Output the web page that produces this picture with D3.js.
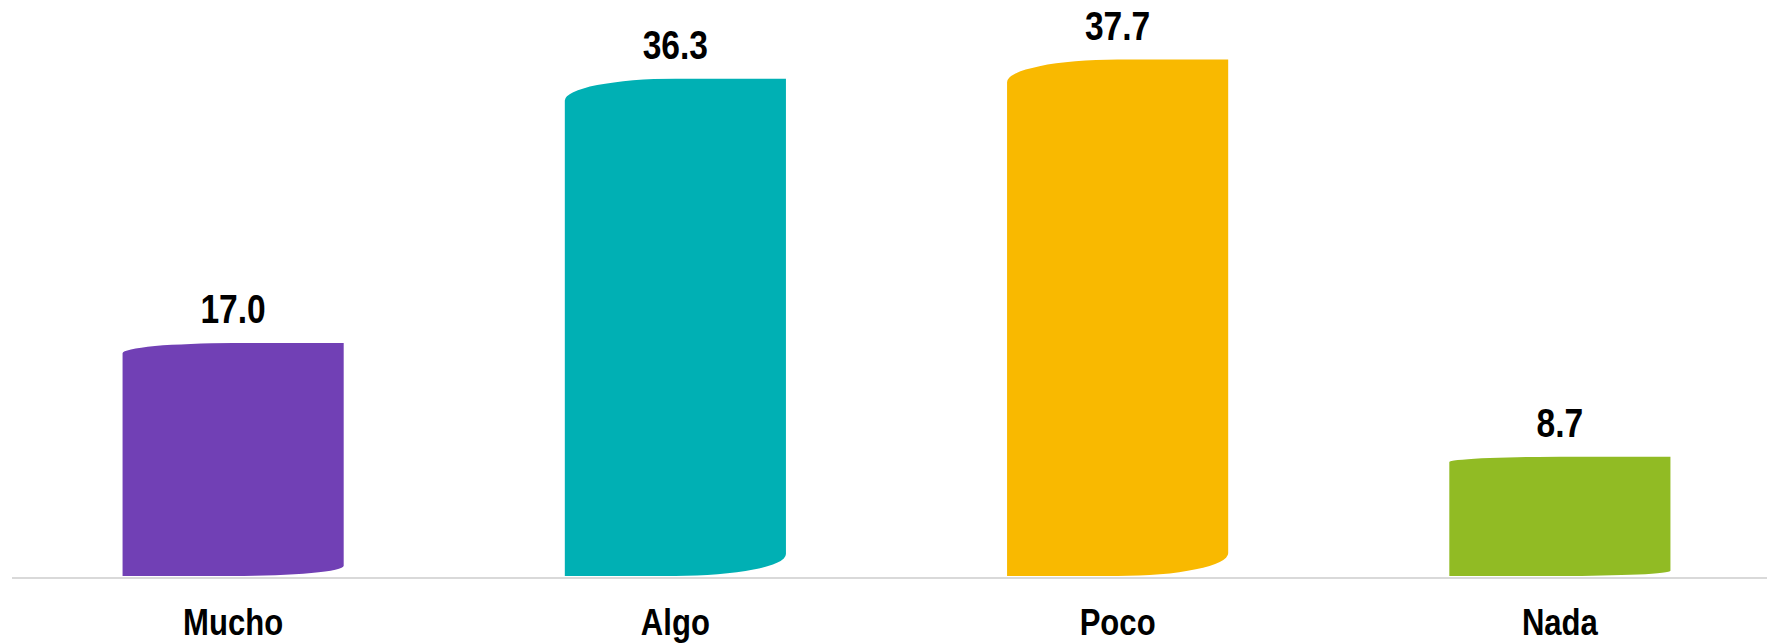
<!DOCTYPE html>
<html>
<head>
<meta charset="utf-8">
<script src="https://cdn.jsdelivr.net/npm/d3@7"></script>
<style>
  html, body { margin: 0; padding: 0; background: #ffffff; }
  svg { display: block; }
  .val { font-family: "Liberation Sans Narrow", "Liberation Sans", Arial, sans-serif; font-weight: bold; font-size: 40px; fill: #000; }
  .cat { font-family: "Liberation Sans Narrow", "Liberation Sans", Arial, sans-serif; font-weight: bold; font-size: 37px; fill: #000; }
</style>
</head>
<body>
<script>
const categories = ["Mucho", "Algo", "Poco", "Nada"];
const values = [17.0, 36.3, 37.7, 8.7];
const valueLabels = ["17.0", "36.3", "37.7", "8.7"];
const colors = ["#7140b5", "#00b0b4", "#f9b900", "#91bb24"];

const W = 1767, H = 644;
const svg = d3.select("body").append("svg").attr("width", W).attr("height", H);

const x = d3.scaleBand().domain(categories).range([12, 1781]).paddingInner(0.5).paddingOuter(0.25);
const y = d3.scaleLinear().domain([0, 40]).range([576, 28]);
const narrow = 0.84;

// axis line
svg.append("line")
  .attr("x1", 12).attr("x2", W)
  .attr("y1", 578).attr("y2", 578)
  .attr("stroke", "#d9d9d9").attr("stroke-width", 2);

function barPath(i) {
  const x0 = x(categories[i]), x1 = x0 + x.bandwidth();
  const yTop = y(values[i]), yBot = y(0);
  const h = yBot - yTop;
  const r = 0.044 * h;
  const rx = (x1 - x0) / 2;
  return `M${x0},${yBot} L${x0},${yTop + r} A${rx},${r} 0 0 1 ${x0 + rx},${yTop} L${x1},${yTop} L${x1},${yBot - r} A${rx},${r} 0 0 1 ${x1 - rx},${yBot} Z`;
}

svg.selectAll("path.bar").data(values).enter().append("path")
  .attr("class", "bar")
  .attr("d", (d, i) => barPath(i))
  .attr("fill", (d, i) => colors[i]);

svg.selectAll("text.val").data(values).enter().append("text")
  .attr("class", "val")
  .attr("transform", (d, i) => `translate(${x(categories[i]) + x.bandwidth() / 2},${y(d) - 20}) scale(${narrow},1)`)
  .attr("text-anchor", "middle")
  .text((d, i) => valueLabels[i]);

svg.selectAll("text.cat").data(categories).enter().append("text")
  .attr("class", "cat")
  .attr("transform", d => `translate(${x(d) + x.bandwidth() / 2},635) scale(${narrow},1)`)
  .attr("text-anchor", "middle")
  .text(d => d);
</script>
</body>
</html>
